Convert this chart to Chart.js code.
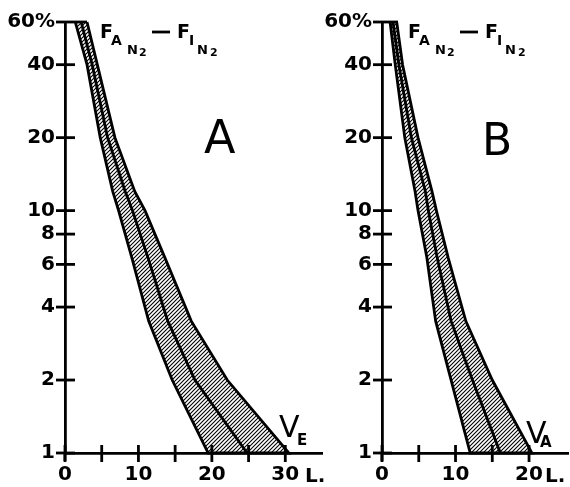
<!DOCTYPE html>
<html>
<head>
<meta charset="utf-8">
<script src="https://cdn.jsdelivr.net/npm/chart.js@4.4.1/dist/chart.umd.min.js"></script>
<style>
html, body { margin: 0; padding: 0; background: #fff; }
#wrap { position: relative; width: 570px; height: 487px; }
canvas { position: absolute; top: 0; }
</style>
</head>
<body>
<div id="wrap">
  <canvas id="chartA" width="330" height="487" style="left:0"></canvas>
  <canvas id="chartB" width="270" height="487" style="left:300px"></canvas>
</div>
<script>
// y levels (%) at which the curves were read, top to bottom
const levels = [60, 40, 20, 12, 10, 6.4, 3.5, 2, 1];

// panel A: V_E (litres)
const lowA  = [1.4, 3.0, 4.8, 6.5, 7.3, 9.1, 11.4, 14.6, 19.5];
const midA  = [2.2, 3.7, 5.8, 8.2, 9.2, 11.3, 14.0, 17.7, 24.8];
const highA = [3.0, 4.4, 6.8, 9.5, 10.9, 13.6, 17.2, 22.1, 30.5];

// panel B: V_A (litres)
const lowB  = [1.1, 1.8, 3.1, 4.5, 4.9, 6.1, 7.3, 9.4, 12.0];
const midB  = [1.5, 2.3, 4.0, 5.9, 6.3, 7.5, 9.4, 12.3, 16.1];
const highB = [2.0, 2.8, 4.9, 6.8, 7.4, 9.0, 11.4, 15.0, 20.4];

const yTickValues = [1, 2, 4, 6, 8, 10, 20, 40, 60];
const xLabelsA = [0, 10, 20, 30];
const xLabelsB = [0, 10, 20];
const xMarksA = [0, 5, 10, 15, 20, 25, 30];
const xMarksB = [0, 5, 10, 15, 20];

const tickFont = { family: 'DejaVu Sans', size: 20, weight: 'bold' };
const LW = 2.8;

function hatch(ctx) {
    const c = document.createElement('canvas');
    c.width = 4; c.height = 4;
    const g = c.getContext('2d');
    g.fillStyle = '#fff';
    g.fillRect(0, 0, 4, 4);
    g.strokeStyle = '#000';
    g.lineWidth = 1.1;
    g.beginPath();
    g.moveTo(-1, 5); g.lineTo(5, -1);
    g.moveTo(-1, 1); g.lineTo(1, -1);
    g.moveTo(3, 5); g.lineTo(5, 3);
    g.stroke();
    return ctx.createPattern(c, 'repeat');
}

function pts(xs) {
    return xs.map((v, i) => ({ x: v, y: levels[i] }));
}

function tickMarks(xMarks, cap) {
    return {
        id: 'tickMarks',
        afterDraw(chart) {
            const { ctx, scales: { x, y } } = chart;
            ctx.save();
            ctx.strokeStyle = '#000';
            ctx.lineWidth = LW;
            yTickValues.forEach(v => {
                const py = y.getPixelForValue(v);
                ctx.beginPath();
                ctx.moveTo(x.left - 9, py);
                ctx.lineTo(x.left + (v === 60 ? cap : 10), py);
                ctx.stroke();
            });
            xMarks.forEach(v => {
                const px = x.getPixelForValue(v);
                ctx.beginPath();
                ctx.moveTo(px, y.bottom - 8);
                ctx.lineTo(px, y.bottom + 9);
                ctx.stroke();
            });
            // axis runs a little past the origin, as drawn
            ctx.beginPath();
            ctx.moveTo(x.left, y.bottom);
            ctx.lineTo(x.left, y.bottom + 8);
            ctx.stroke();
            ctx.restore();
        }
    };
}

function notes(items) {
    return {
        id: 'notes',
        afterDraw(chart) {
            const ctx = chart.ctx;
            ctx.save();
            ctx.fillStyle = '#000';
            ctx.strokeStyle = '#000';
            items.forEach(n => {
                if (n.dash) {
                    ctx.lineWidth = LW;
                    ctx.beginPath();
                    ctx.moveTo(n.dash[0], n.dash[2]);
                    ctx.lineTo(n.dash[1], n.dash[2]);
                    ctx.stroke();
                } else {
                    ctx.font = n.font;
                    ctx.fillText(n.t, n.x, n.y);
                }
            });
            ctx.restore();
        }
    };
}

function fractionLabel(x0) {
    const big = 'bold 19px "DejaVu Sans"';
    const sub = 'bold 14px "DejaVu Sans"';
    const sub2 = 'bold 13px "DejaVu Sans"';
    const sub3 = 'bold 11px "DejaVu Sans"';
    return [
        { t: 'F', x: x0, y: 38, font: big },
        { t: 'A', x: x0 + 11, y: 45, font: sub },
        { t: 'N', x: x0 + 27, y: 54, font: sub2 },
        { t: '2', x: x0 + 39, y: 56, font: sub3 },
        { dash: [x0 + 52, x0 + 70, 32] },
        { t: 'F', x: x0 + 77, y: 38, font: big },
        { t: 'I', x: x0 + 89, y: 45, font: sub },
        { t: 'N', x: x0 + 97, y: 54, font: sub2 },
        { t: '2', x: x0 + 110, y: 56, font: sub3 }
    ];
}

function makePanel(id, low, mid, high, xMax, xLabels, xMarks, yWidth, cap, padRight, items) {
    const ctx = document.getElementById(id).getContext('2d');
    const band = pts(low).concat(pts(high).reverse());
    return new Chart(ctx, {
        type: 'scatter',
        data: {
            datasets: [{
                data: band,
                showLine: true,
                fill: 'shape',
                backgroundColor: hatch(ctx),
                borderColor: '#000',
                borderWidth: LW,
                pointRadius: 0,
                tension: 0,
                clip: false,
                order: 2
            }, {
                data: pts(mid),
                showLine: true,
                fill: false,
                borderColor: '#000',
                borderWidth: LW,
                pointRadius: 0,
                tension: 0,
                clip: false,
                order: 1
            }]
        },
        options: {
            responsive: false,
            animation: false,
            layout: { padding: { top: 22, right: padRight, left: 0, bottom: 0 } },
            plugins: {
                legend: { display: false },
                tooltip: { enabled: false },
                filler: { drawTime: 'beforeDatasetsDraw' }
            },
            scales: {
                x: {
                    type: 'linear',
                    min: 0,
                    max: xMax,
                    afterBuildTicks: s => { s.ticks = xLabels.map(v => ({ value: v })); },
                    afterFit: s => { s.height = 34; },
                    ticks: { font: tickFont, color: '#000', padding: 2, maxRotation: 0, callback: v => String(v) },
                    grid: { display: false },
                    border: { color: '#000', width: LW }
                },
                y: {
                    type: 'logarithmic',
                    min: 1,
                    max: 60,
                    afterBuildTicks: s => { s.ticks = yTickValues.map(v => ({ value: v })); },
                    afterFit: s => { s.width = yWidth; },
                    ticks: { font: tickFont, color: '#000', padding: 2, callback: v => v === 60 ? '60%' : String(v) },
                    grid: { display: false },
                    border: { color: '#000', width: LW }
                }
            }
        },
        plugins: [tickMarks(xMarks, cap), notes(items)]
    });
}

makePanel('chartA', lowA, midA, highA, 35, xLabelsA, xMarksA, 65, 22, 8,
    fractionLabel(100).concat([
        { t: 'A', x: 204, y: 153, font: '46px "DejaVu Sans"' },
        { t: 'V', x: 279, y: 437, font: '30px "DejaVu Sans"' },
        { t: 'E', x: 297, y: 445, font: 'bold 15px "DejaVu Sans"' },
        { t: 'L.', x: 305, y: 482, font: 'bold 20px "DejaVu Sans"' }
    ]));

makePanel('chartB', lowB, midB, highB, 25.3, xLabelsB, xMarksB, 82, 16, 2,
    fractionLabel(108).concat([
        { t: 'B', x: 182, y: 155, font: '44px "DejaVu Sans"' },
        { t: 'V', x: 226, y: 443, font: '30px "DejaVu Sans"' },
        { t: 'A', x: 240, y: 447, font: 'bold 15px "DejaVu Sans"' },
        { t: 'L.', x: 245, y: 482, font: 'bold 20px "DejaVu Sans"' }
    ]));
</script>
</body>
</html>
